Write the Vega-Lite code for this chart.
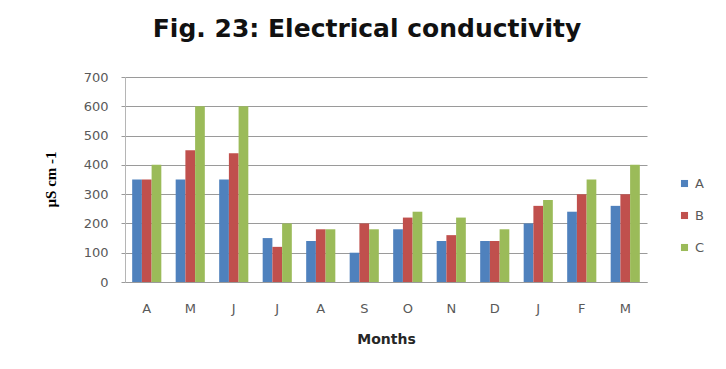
{
  "$schema": "https://vega.github.io/schema/vega-lite/v6.json",
  "autosize": {"type": "none"},
  "padding": {"left": 125, "top": 77, "right": 79, "bottom": 87},
  "width": 522,
  "height": 205,
  "background": "#ffffff",
  "title": {
    "text": "Fig. 23: Electrical conductivity",
    "font": "DejaVu Sans",
    "fontSize": 25,
    "fontWeight": "bold",
    "color": "#111111",
    "anchor": "middle",
    "dx": -19,
    "offset": 29
  },
  "data": {
    "values": [
      {"month": "Apr", "site": "A", "ec": 350}, {"month": "Apr", "site": "B", "ec": 350}, {"month": "Apr", "site": "C", "ec": 400},
      {"month": "May", "site": "A", "ec": 350}, {"month": "May", "site": "B", "ec": 450}, {"month": "May", "site": "C", "ec": 600},
      {"month": "Jun", "site": "A", "ec": 350}, {"month": "Jun", "site": "B", "ec": 440}, {"month": "Jun", "site": "C", "ec": 600},
      {"month": "Jul", "site": "A", "ec": 150}, {"month": "Jul", "site": "B", "ec": 120}, {"month": "Jul", "site": "C", "ec": 200},
      {"month": "Aug", "site": "A", "ec": 140}, {"month": "Aug", "site": "B", "ec": 180}, {"month": "Aug", "site": "C", "ec": 180},
      {"month": "Sep", "site": "A", "ec": 100}, {"month": "Sep", "site": "B", "ec": 200}, {"month": "Sep", "site": "C", "ec": 180},
      {"month": "Oct", "site": "A", "ec": 180}, {"month": "Oct", "site": "B", "ec": 220}, {"month": "Oct", "site": "C", "ec": 240},
      {"month": "Nov", "site": "A", "ec": 140}, {"month": "Nov", "site": "B", "ec": 160}, {"month": "Nov", "site": "C", "ec": 220},
      {"month": "Dec", "site": "A", "ec": 140}, {"month": "Dec", "site": "B", "ec": 140}, {"month": "Dec", "site": "C", "ec": 180},
      {"month": "Jan", "site": "A", "ec": 200}, {"month": "Jan", "site": "B", "ec": 260}, {"month": "Jan", "site": "C", "ec": 280},
      {"month": "Feb", "site": "A", "ec": 240}, {"month": "Feb", "site": "B", "ec": 300}, {"month": "Feb", "site": "C", "ec": 350},
      {"month": "Mar", "site": "A", "ec": 260}, {"month": "Mar", "site": "B", "ec": 300}, {"month": "Mar", "site": "C", "ec": 400}
    ]
  },
  "mark": {"type": "bar"},
  "encoding": {
    "x": {
      "field": "month",
      "type": "nominal",
      "sort": null,
      "scale": {"paddingInner": 0.33, "paddingOuter": 0.165},
      "axis": {
        "title": "Months",
        "titleFont": "DejaVu Sans",
        "titleFontSize": 14,
        "titleFontWeight": "bold",
        "titleColor": "#262626",
        "titlePadding": 17,
        "labelAngle": 0,
        "labelExpr": "substring(datum.label, 0, 1)",
        "labelFont": "DejaVu Sans",
        "labelFontSize": 13,
        "labelColor": "#595959",
        "labelPadding": 20,
        "ticks": false,
        "domainColor": "#9a9a9a",
        "grid": false
      }
    },
    "xOffset": {"field": "site", "type": "nominal"},
    "y": {
      "field": "ec",
      "type": "quantitative",
      "scale": {"domain": [0, 700], "nice": false},
      "axis": {
        "title": "µS cm -1",
        "titleFont": "Liberation Serif",
        "titleFontSize": 15,
        "titleFontWeight": "bold",
        "titleColor": "#000000",
        "titleX": -75,
        "titleY": 102,
        "titleAngle": -90,
        "titleBaseline": "middle",
        "titleAlign": "center",
        "values": [0, 100, 200, 300, 400, 500, 600, 700],
        "labelFont": "DejaVu Sans",
        "labelFontSize": 13,
        "labelColor": "#595959",
        "labelPadding": 13,
        "tickSize": 4,
        "tickColor": "#9a9a9a",
        "domainColor": "#b5b5b5",
        "gridColor": "#9a9a9a",
        "gridWidth": 1
      }
    },
    "color": {
      "field": "site",
      "type": "nominal",
      "scale": {"domain": ["A", "B", "C"], "range": ["#4F81BD", "#C0504D", "#9BBB59"]},
      "legend": {
        "title": null,
        "orient": "none",
        "legendX": 553,
        "legendY": 100,
        "symbolType": "square",
        "symbolSize": 50,
        "symbolStrokeWidth": 0,
        "labelFont": "DejaVu Sans",
        "labelFontSize": 13,
        "labelColor": "#595959",
        "labelOffset": 4,
        "rowPadding": 18
      }
    }
  },
  "config": {"view": {"stroke": null}}
}
